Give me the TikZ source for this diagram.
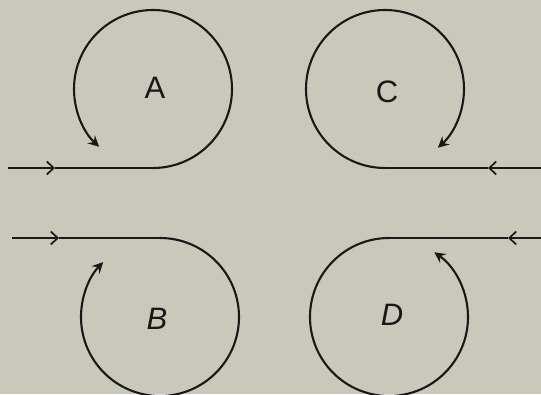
\documentclass[tikz,border=0pt]{standalone}
\usepackage{fontspec}
\setmainfont{Liberation Sans}
\usetikzlibrary{arrows.meta}
\definecolor{paper}{RGB}{202,199,187}
\definecolor{ink}{RGB}{24,24,22}
\begin{document}
\begin{tikzpicture}[x=1pt,y=1pt,
  loop/.style={draw=ink,line width=2.1pt},
  flowline/.style={draw=ink,line width=1.8pt},
  midarrow/.style={-{Straight Barb[length=7pt,width=13pt,line width=1.7pt]}},
  endarrow/.style={-{Stealth[length=11pt,width=11pt,inset=4pt]}},
  letter/.style={font=\fontsize{31}{31}\selectfont,text=ink,inner sep=0pt}]
\fill[paper] (0,0) rectangle (541,394);
\useasboundingbox (0,0) rectangle (541,394);
% A
\coordinate (a0) at (8,226);
\coordinate (a1) at (55,226);
\coordinate (a2) at (153,226);
\draw[flowline,midarrow] (a0) -- (a1);
\draw[flowline] (a1) -- (a2);
\draw[loop,endarrow] (a2) arc[start angle=-90,end angle=227,radius=79];
\node[letter] (la) at (155,306) {A};
% C
\coordinate (c0) at (541,226);
\coordinate (c1) at (488,226);
\coordinate (c2) at (385,226);
\draw[flowline,midarrow] (c0) -- (c1);
\draw[flowline] (c1) -- (c2);
\draw[loop,endarrow] (c2) arc[start angle=-90,end angle=-408,radius=79];
\node[letter] (lc) at (387,302) {C};
% B
\coordinate (b0) at (12,156);
\coordinate (b1) at (59,156);
\coordinate (b2) at (160,156);
\draw[flowline,midarrow] (b0) -- (b1);
\draw[flowline] (b1) -- (b2);
\draw[loop,endarrow] (b2) arc[start angle=90,end angle=-224,radius=79];
\node[letter] (lb) at (157,75) {\itshape B};
% D
\coordinate (d0) at (541,156);
\coordinate (d1) at (508,156);
\coordinate (d2) at (389,156);
\draw[flowline,midarrow] (d0) -- (d1);
\draw[flowline] (d1) -- (d2);
\draw[loop,endarrow] (d2) arc[start angle=90,end angle=415,radius=79];
\node[letter] (ld) at (392,79) {\itshape D};
\end{tikzpicture}
\end{document}
